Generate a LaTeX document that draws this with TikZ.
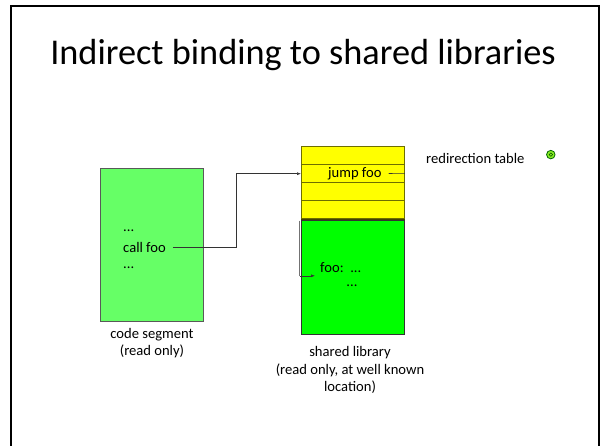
\documentclass[tikz,border=0pt]{standalone}
\usepackage{fontspec}
\setmainfont{Carlito}
\usetikzlibrary{arrows.meta}
\definecolor{codegreen}{HTML}{66FF66}
\definecolor{libgreen}{HTML}{00FF00}
\definecolor{tableyellow}{HTML}{FFFF00}
\definecolor{olive}{HTML}{6E6E00}
\definecolor{btngreen}{HTML}{88EE22}
\tikzset{
  txt/.style={inner sep=0pt, font=\fontsize{14.6}{17.6}\selectfont, align=center},
  rowbox/.style={draw=olive, fill=tableyellow, line width=0.8pt, minimum width=103pt, minimum height=18pt, inner sep=0pt, anchor=north west},
  link/.style={draw=black!80, line width=0.6pt},
  tip/.style={-{Latex[length=4pt,width=3pt]}}
}
\begin{document}
\begin{tikzpicture}[x=1pt,y=-1pt]
  \useasboundingbox (0,0) rectangle (600,445);
  % slide frame
  \draw[line width=2.4pt] (10.8,460) -- (10.8,6) -- (598.8,6) -- (598.8,460);
  % title
  \node[inner sep=0pt, font=\fontsize{36.3}{40}\selectfont] (title) at (303,55) {Indirect binding to shared libraries};

  % code segment
  \node[draw=black!65, fill=codegreen, line width=0.8pt, minimum width=103pt, minimum height=153pt, inner sep=0pt, anchor=north west] (code) at (100,168) {};
  \node[txt, anchor=west] (dots1) at (123,231) {...};
  \node[txt, anchor=west] (call) at (123,247.5) {call foo};
  \node[txt, anchor=west] (dots2) at (123,268) {...};
  \node[txt] (codelbl) at (152,343) {code segment\\(read only)};

  % redirection table
  \node[rowbox] (r1) at (301,146.3) {};
  \node[rowbox] (r2) at (301,164.3) {};
  \node[rowbox] (r3) at (301,182.3) {};
  \node[rowbox] (r4) at (301,200.3) {};
  \draw[olive!60!black, line width=1.2pt] (r4.south west) -- (r4.south east);
  \node[txt, anchor=west] (jump) at (328,173.5) {jump foo};
  \node[txt, anchor=west] (redir) at (426,158.5) {redirection table};
  \node[circle, draw=green!40!black, fill=btngreen, line width=0.8pt, minimum size=8.5pt, inner sep=0pt] (btn) at (550.8,154.6) {};
  \node[circle, draw=green!30!black, line width=0.5pt, minimum size=3.5pt, inner sep=0pt] (btndot) at (btn.center) {};

  % shared library
  \node[draw=black!80, fill=libgreen, line width=0.8pt, minimum width=103pt, minimum height=114pt, inner sep=0pt, anchor=north west] (lib) at (301,220.3) {};
  \node[txt, anchor=west] (foo) at (320,267.5) {foo:\ \ ...};
  \node[txt] (dots3) at (352,286) {...};
  \node[txt] (liblbl) at (350,370) {shared library\\(read only, at well known\\location)};

  % call foo -> jump foo
  \coordinate (bend) at (236.5,247.5);
  \draw[link, tip] ([xshift=7pt]call.east) -- (bend) |- (r2.west);
  % jump foo -> foo
  \draw[link] ([xshift=7pt]jump.east) -- (r2.east);
  \coordinate (entry) at (299.5,220.5);
  \draw[draw=black!55, line width=0.8pt] (entry) -- (299.5,275.8);
  \draw[link, tip] (299.5,275.8) -- ([xshift=-5pt]foo.west |- 0,275.8);
\end{tikzpicture}
\end{document}
